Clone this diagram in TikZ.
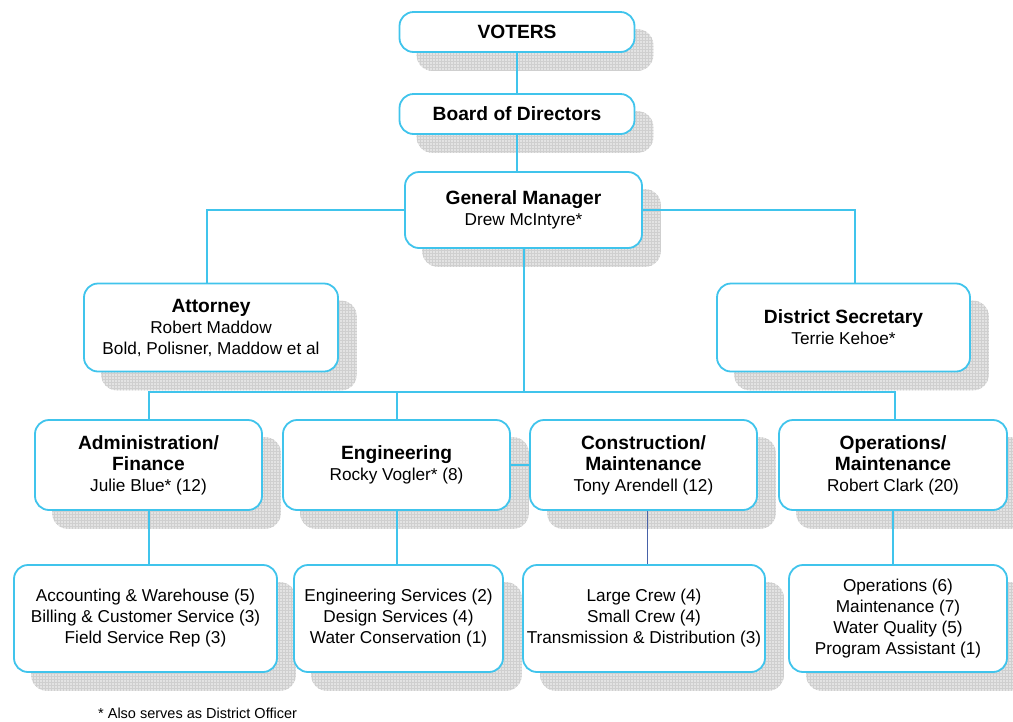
\documentclass[tikz,border=0pt]{standalone}
\usepackage{fontspec}
\setmainfont{Liberation Sans}
\usetikzlibrary{patterns,backgrounds}

\definecolor{orgcyan}{RGB}{64,196,236}
\definecolor{orgnavy}{RGB}{72,98,168}
\newcommand{\unithead}[1]{{\fontsize{19.2}{23}\selectfont\bfseries #1}}

\tikzset{
  unit/.style={draw=orgcyan, line width=1.8pt, rounded corners=14pt, fill=white,
    align=center, inner sep=0pt, font=\fontsize{17.2}{21}\selectfont},
  link/.style={draw=orgcyan, line width=2pt},
  shade/.style={rounded corners=16pt, preaction={fill=gray!22}, pattern=grid, pattern color=gray!38}
}

\begin{document}
\begin{tikzpicture}[x=1pt,y=-1pt]
\useasboundingbox (0,0) rectangle (1013,721);

%%%%% Boxes %%%%%
\node[unit, minimum width=235pt, minimum height=40pt] (vot) at (517,32) {\unithead{VOTERS}};
\node[unit, minimum width=235pt, minimum height=40pt] (bod) at (517,114) {\unithead{Board of Directors}};
\node[unit, minimum width=237pt, minimum height=76pt] (gm) at (523.5,210) {\unithead{General Manager}\\Drew McIntyre*};

\node[unit, minimum width=254pt, minimum height=88pt] (att) at (211,327.5) {\unithead{Attorney}\\Robert Maddow\\Bold, Polisner, Maddow et al};
\node[unit, minimum width=253pt, minimum height=88pt] (sec) at (843.5,327.5) {\unithead{District Secretary}\\Terrie Kehoe*};

\node[unit, minimum width=227pt, minimum height=90pt] (adm) at (148.5,465) {\unithead{Administration/}\\\unithead{Finance}\\Julie Blue* (12)};
\node[unit, minimum width=227pt, minimum height=90pt] (eng) at (396.5,465) {\unithead{Engineering}\\Rocky Vogler* (8)};
\node[unit, minimum width=227pt, minimum height=90pt] (con) at (643.5,465) {\unithead{Construction/}\\\unithead{Maintenance}\\Tony Arendell (12)};
\node[unit, minimum width=228pt, minimum height=90pt] (ops) at (893,465) {\unithead{Operations/}\\\unithead{Maintenance}\\Robert Clark (20)};

\node[unit, minimum width=263pt, minimum height=107pt] (acc) at (145.5,618.5) {Accounting \& Warehouse (5)\\Billing \& Customer Service (3)\\Field Service Rep (3)};
\node[unit, minimum width=209pt, minimum height=107pt] (egs) at (398.5,618.5) {Engineering Services (2)\\Design Services (4)\\Water Conservation (1)};
\node[unit, minimum width=242pt, minimum height=107pt] (crw) at (644,618.5) {Large Crew (4)\\Small Crew (4)\\Transmission \& Distribution (3)};
\node[unit, minimum width=218pt, minimum height=107pt] (opx) at (898,618.5) {Operations (6)\\Maintenance (7)\\Water Quality (5)\\Program Assistant (1)};

\node[anchor=base west, inner sep=0pt, font=\fontsize{14.5}{17}\selectfont] (note) at (98,718) {* Also serves as District Officer};

%%%%% Shadows %%%%%
\begin{scope}[on background layer]
\foreach \n in {vot,bod,gm,att,sec,adm,eng,con,ops,acc,egs,crw,opx}{
  \path[shade] ([shift={(18,18)}]\n.south west) rectangle ([shift={(18,18)}]\n.north east);
}
\end{scope}

%%%%% Lines %%%%%
\coordinate (bus) at (523.5,392);
\draw[link] (vot) -- (bod);
\draw[link] (bod.south) -- (bod.south |- gm.north);
\draw[link] (gm.west) -| ([xshift=-4pt]att.north);
\draw[link] (gm.east) -| ([xshift=11pt]sec.north);
\draw[link] (gm.south) -- (bus);
\draw[link] (adm.north) |- (bus) -| ([xshift=2pt]ops.north);
\draw[link] (eng.north) -- (eng.north |- bus);
\draw[link] (eng.east) -- (con.west);
\foreach \a/\b in {adm/acc,eng/egs,ops/opx}{
  \draw[link] (\a.south) -- (\a.south |- \b.north);
}
\draw[link, draw=orgnavy, line width=1.3pt] ([xshift=4pt]con.south) -- ([xshift=4pt]con.south |- crw.north);
\end{tikzpicture}
\end{document}
